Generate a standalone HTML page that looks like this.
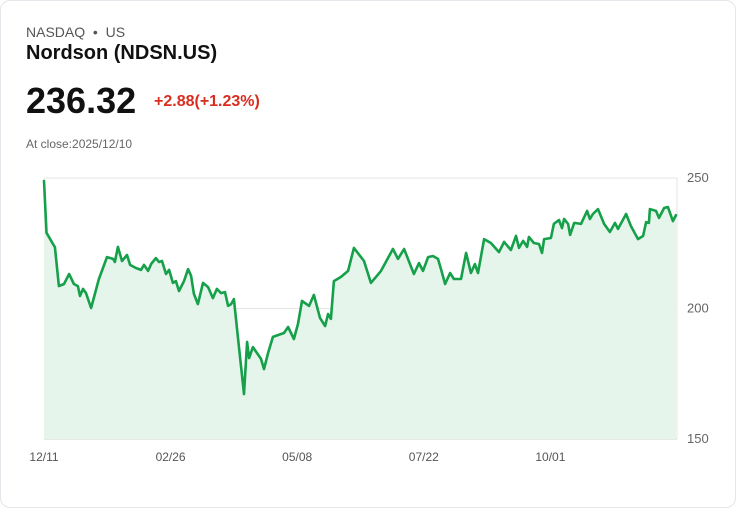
<!DOCTYPE html>
<html><head><meta charset="utf-8"><style>
html,body{margin:0;padding:0;background:#fff;}
body{width:736px;height:508px;overflow:hidden;font-family:"Liberation Sans",sans-serif;}
.card{position:absolute;left:0;top:0;width:734px;height:506px;border:1px solid #e3e6ea;border-radius:10px;background:#fff;}
.t{position:absolute;white-space:nowrap;}
</style></head><body>
<div class="card">
<div class="t" style="left:25px;top:23px;font-size:14px;color:#555;">NASDAQ &nbsp;•&nbsp; US</div>
<div class="t" style="left:25px;top:41px;font-size:20px;font-weight:bold;color:#111;">Nordson (NDSN.US)</div>
<div class="t" style="left:25px;top:79px;font-size:36px;font-weight:bold;color:#111;">236.32</div>
<div class="t" style="left:153px;top:92px;font-size:16px;font-weight:bold;color:#d92d20;">+2.88(+1.23%)</div>
<div class="t" style="left:25px;top:136px;font-size:12px;color:#666;">At close:2025/12/10</div>
<svg id="chart" width="736" height="508" style="position:absolute;left:0;top:0"></svg>
</div>
<script>
const days=[0,1,4,4.3,5.9,7.9,9.9,11.8,13.4,14.2,15.4,16.6,18.6,21.7,24.9,27.3,28,29.2,30.8,32.8,34,36.3,38.3,39.5,41.1,42.3,44.2,45.4,46.6,48.2,49.4,50.9,52.1,53.3,55.3,56.9,58.1,59.2,60.8,62.8,64.8,66.7,68.3,69.9,71.5,72.7,73.9,75,76.6,79,80.2,81,82.5,85.7,86.9,88.5,90.4,94.8,96.4,98.7,100.3,101.9,104.7,106.6,109,111,112.2,113.3,114.5,117.3,120.1,122.4,126.4,129.1,133.1,137.8,139.8,142.2,146.1,148.1,149.7,151.7,153.6,155.6,156.8,158.4,160.4,161.9,164.7,166.7,168.6,170.2,171.4,173.8,176.5,179.7,181.7,184.4,186.4,187.6,189.2,190.8,191.5,193.5,195.5,196.7,197.5,200.2,201.4,203.4,204.6,205.4,207,207.8,209.4,212.1,214.5,215.6,216.8,218.8,221.2,223.5,225.5,226.7,229.9,231.8,234.6,236.6,237.8,238.9,239.3,241.7,242.9,244.9,246.4,248.4,249.6];
const prices=[248.9,229.0,224.0,223.6,208.6,209.4,213.2,209.4,208.6,204.8,207.5,205.9,200.2,211.3,219.7,219.0,217.8,223.6,218.2,220.5,216.7,215.5,214.8,216.7,214.4,217.0,219.3,217.8,218.2,213.2,214.8,209.8,210.5,206.7,210.5,215.1,212.5,205.6,201.7,209.8,208.2,204.0,207.5,205.9,206.3,201.0,201.7,203.6,188.7,167.2,187.2,181.0,185.2,180.7,176.8,183.0,189.1,190.6,192.9,188.3,194.1,202.9,201.0,205.2,196.4,193.3,197.9,196.0,210.5,212.1,214.4,223.2,218.2,209.8,214.4,222.8,219.0,222.8,213.2,217.4,214.4,219.7,220.1,219.0,215.1,209.4,213.6,211.3,211.3,221.3,213.6,217.0,213.6,226.6,225.1,221.6,225.5,222.4,227.8,223.2,225.9,223.6,227.4,225.1,224.7,221.3,226.6,227.0,232.4,233.9,230.8,234.3,232.4,228.2,232.8,232.4,237.4,234.3,236.2,238.1,232.4,229.3,232.8,230.5,236.2,231.6,226.6,227.8,233.1,232.8,238.1,237.4,234.7,238.5,238.9,233.5,235.8];
const yTicks=[250,200,150];
const xTickLabels=["12/11","02/26","05/08","07/22","10/01"];
const xTickDays=[0,50,100,150,200];
const X0=43,X1=676,Y0=177,Y1=438,DMAX=250,PMIN=150,PMAX=250;
const xs=d=>X0+(X1-X0)*d/DMAX;
const ys=p=>Y1-(Y1-Y0)*(p-PMIN)/(PMAX-PMIN);
const svg=document.getElementById('chart');
const NS='http://www.w3.org/2000/svg';
function mk(tag,attrs){const e=document.createElementNS(NS,tag);for(const k in attrs)e.setAttribute(k,attrs[k]);svg.appendChild(e);return e;}
yTicks.forEach((v,i)=>{
 const g=mk('line',{x1:X0,x2:X1,y1:ys(v),y2:ys(v),stroke:i==2?'#d0d0d0':'#e4e4e4','stroke-width':1});
 
 
 const t=mk('text',{x:686,y:ys(v)+4,'font-size':13,fill:'#666','font-family':'Liberation Sans, sans-serif'});
 t.textContent=v;
 
 
});
const vl=mk('line',{x1:X1,x2:X1,y1:Y0,y2:Y1,stroke:'#e4e4e4','stroke-width':1});


xTickLabels.forEach((l,i)=>{
 const t=mk('text',{x:xs(xTickDays[i]),y:460,'font-size':12,fill:'#555','text-anchor':'middle','font-family':'Liberation Sans, sans-serif'});
 t.textContent=l;
 
 
});
let d='';days.forEach((v,i)=>{d+=(i?'L':'M')+xs(v).toFixed(1)+' '+ys(prices[i]).toFixed(1);});
const area=mk('path',{d:d+'L'+xs(days[days.length-1])+' '+Y1+'L'+xs(days[0])+' '+Y1+'Z',fill:'#e5f5eb'});


const line=mk('path',{d:d,fill:'none',stroke:'#16a04a','stroke-width':2.6,'stroke-linejoin':'round','stroke-linecap':'round'});


</script>
</body></html>
